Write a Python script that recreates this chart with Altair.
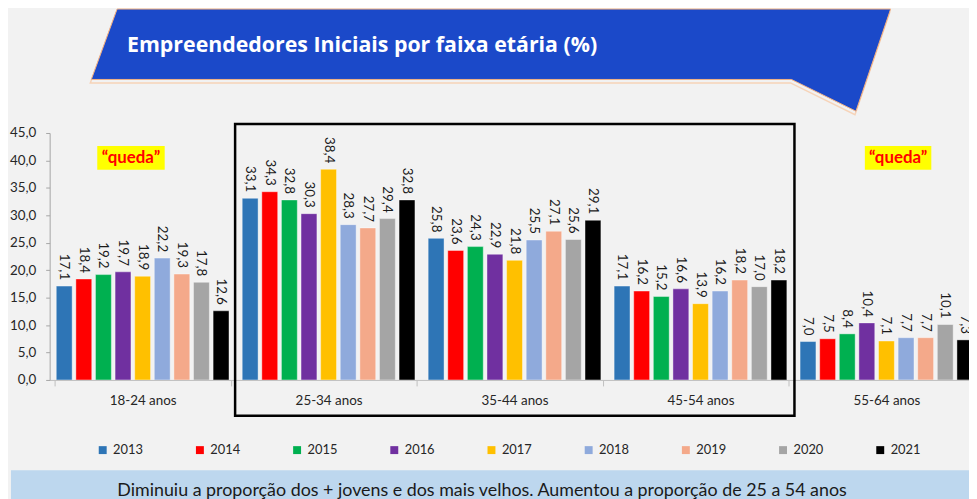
import altair as alt
import pandas as pd

faixas = ["18-24 anos", "25-34 anos", "35-44 anos", "45-54 anos", "55-64 anos"]
anos = ["2013", "2014", "2015", "2016", "2017", "2018", "2019", "2020", "2021"]
cores = ["#2e75b6", "#ff0000", "#00b050", "#7030a0", "#ffc000",
         "#8faadc", "#f4a98a", "#a5a5a5", "#000000"]

v2013 = [17.1, 33.1, 25.8, 17.1, 7.0]
v2014 = [18.4, 34.3, 23.6, 16.2, 7.5]
v2015 = [19.2, 32.8, 24.3, 15.2, 8.4]
v2016 = [19.7, 30.3, 22.9, 16.6, 10.4]
v2017 = [18.9, 38.4, 21.8, 13.9, 7.1]
v2018 = [22.2, 28.3, 25.5, 16.2, 7.7]
v2019 = [19.3, 27.7, 27.1, 18.2, 7.7]
v2020 = [17.8, 29.4, 25.6, 17.0, 10.1]
v2021 = [12.6, 32.8, 29.1, 18.2, 7.3]
series = [v2013, v2014, v2015, v2016, v2017, v2018, v2019, v2020, v2021]

y_ticks = [0, 5, 10, 15, 20, 25, 30, 35, 40, 45]

titulo = "Empreendedores Iniciais por faixa etária (%)"
nota = "Diminuiu a proporção dos + jovens e dos mais velhos. Aumentou a proporção de 25 a 54 anos"
queda = "\u201cqueda\u201d"

rows = []
for ano, vals in zip(anos, series):
    for f, v in zip(faixas, vals):
        rows.append({"faixa": f, "ano": ano, "valor": v,
                     "rotulo": f"{v:.1f}".replace(".", ",")})
df = pd.DataFrame(rows)

FONT = "Lato"

x_enc = alt.X("faixa:N", sort=faixas,
              scale=alt.Scale(range=[0, 937.5], paddingInner=0.05, paddingOuter=0.025),
              axis=alt.Axis(title=None, labelAngle=0, labelFont=FONT, labelFontSize=13.5,
                            labelColor="#262626", domainColor="#bfbfbf", tickColor="#bfbfbf",
                            tickBand="extent", tickSize=6, labelPadding=8))
xo_enc = alt.XOffset("ano:N", sort=anos, scale=alt.Scale(paddingInner=0.19, paddingOuter=0.1))
y_enc = alt.Y("valor:Q", scale=alt.Scale(domain=[0, 45]),
              axis=alt.Axis(title=None, values=y_ticks, grid=False,
                            labelExpr="replace(format(datum.value,'.1f'),'.',',')",
                            labelFont=FONT, labelFontSize=13.5, labelColor="#262626",
                            domainColor="#a6a6a6", tickColor="#a6a6a6", tickSize=4,
                            labelPadding=10))

base = alt.Chart(df)
bars = base.mark_bar(clip=True, stroke="#ffffff", strokeWidth=0.8, strokeOpacity=0.5).encode(
    x=x_enc, xOffset=xo_enc, y=y_enc,
    color=alt.Color("ano:N", sort=anos, scale=alt.Scale(domain=anos, range=cores),
                    legend=alt.Legend(title=None, orient="none", direction="horizontal",
                                      columns=9, legendX=47, legendY=313,
                                      symbolType="square", symbolSize=64,
                                      symbolStrokeWidth=0, labelFont=FONT,
                                      labelFontSize=13, labelColor="#262626",
                                      labelOffset=4, columnPadding=50)),
)
labels = base.mark_text(angle=90, align="right", baseline="middle", dx=-6,
                        font=FONT, fontSize=13.5, color="#1a1a1a", clip=True).encode(
    x=x_enc, xOffset=xo_enc, y=y_enc, text="rotulo:N")

one = alt.Chart(pd.DataFrame({"k": [0]}))

banner_path = ("M-0.9195,-0.1256L0.9829,-0.1256L0.8976,0.1256L0.7390,0.0476"
               "L-0.9829,0.0476Z")
banner_shadow = one.mark_point(shape=banner_path, filled=False, size=672400,
                               stroke="#f9c7a0", strokeWidth=1.5).encode(
    x=alt.value(444), y=alt.value(-70))
banner = one.mark_point(shape=banner_path, filled=True, size=672400, fill="#1b49c9",
                        fillOpacity=1, stroke="#f4b183", strokeWidth=1).encode(
    x=alt.value(445), y=alt.value(-73.5))
banner_text = one.mark_text(align="left", baseline="middle", font="Open Sans", fontSize=21.5,
                            fontWeight="bold", color="#ffffff").encode(
    x=alt.value(78), y=alt.value(-88), text=alt.value(titulo))

frame = one.mark_rect(fillOpacity=0, stroke="#000000", strokeWidth=2.5).encode(
    x=alt.value(187), x2=alt.value(751), y=alt.value(-9), y2=alt.value(285))

q1_box = one.mark_rect(fill="#ffff00").encode(
    x=alt.value(48), x2=alt.value(116), y=alt.value(13), y2=alt.value(37))
q2_box = one.mark_rect(fill="#ffff00").encode(
    x=alt.value(822), x2=alt.value(889), y=alt.value(13), y2=alt.value(37))
q1_txt = one.mark_text(font=FONT, fontSize=17, fontWeight="bold", color="#ff0000",
                       baseline="middle").encode(
    x=alt.value(82), y=alt.value(25), text=alt.value(queda))
q2_txt = one.mark_text(font=FONT, fontSize=17, fontWeight="bold", color="#ff0000",
                       baseline="middle").encode(
    x=alt.value(855.5), y=alt.value(25), text=alt.value(queda))

note_box = one.mark_rect(fill="#bdd7ee").encode(
    x=alt.value(-39), x2=alt.value(930), y=alt.value(340), y2=alt.value(372))
note_txt = one.mark_text(font=FONT, fontSize=18, color="#1a1a1a", baseline="middle").encode(
    x=alt.value(436), y=alt.value(361), text=alt.value(nota))

chart = alt.layer(
    banner_shadow, banner, banner_text, q1_box, q2_box, q1_txt, q2_txt,
    bars, labels, frame, note_box, note_txt
).properties(
    width=927, height=249,
    autosize=alt.AutoSizeParams(type="none"),
    padding={"left": 42, "top": 124, "right": 0, "bottom": 118},
    background="#f2f2f2",
).configure_view(strokeWidth=0)

chart.save("out.html", embed_options={"renderer": "svg", "actions": False})
